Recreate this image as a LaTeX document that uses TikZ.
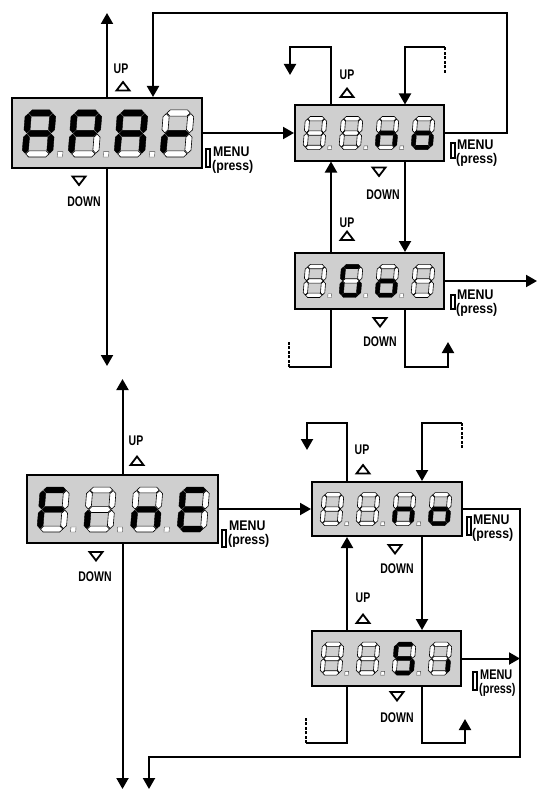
\documentclass[tikz,border=0pt]{standalone}
\usepackage{fontspec}
\setmainfont{Liberation Sans}
\usepackage{graphicx}
\usetikzlibrary{arrows.meta}
\definecolor{lcd}{gray}{0.81}

\newcommand\segH[1]{(0.15,#1) -- (0.9,#1+0.75) -- (5.1,#1+0.75) -- (5.85,#1) -- (5.1,#1-0.75) -- (0.9,#1-0.75) -- cycle}
\newcommand\segV[3]{(#1,#2+0.15) -- (#1+0.75,#2+0.9) -- (#1+0.75,#3-0.9) -- (#1,#3-0.15) -- (#1-0.75,#3-0.9) -- (#1-0.75,#2+0.9) -- cycle}
\def\sevsegs#1#2#3#4#5#6#7#8\relax{%
  \path[seg#1] \segH{10};
  \path[seg#2] \segV{6}{5}{10};
  \path[seg#3] \segV{6}{0}{5};
  \path[seg#4] \segH{0};
  \path[seg#5] \segV{0}{0}{5};
  \path[seg#6] \segV{0}{5}{10};
  \path[seg#7] \segH{5};
  \ifnum#8=1 \path[dpt] (7.9,-0.75) rectangle (9.2,0.55);\fi}
\newcommand\sevdig[4]{\begin{scope}[shift={(#1,#2)},x=#3pt,y=#3pt,xslant=0.08]\sevsegs#4\relax\end{scope}}
\newcommand\lcdrow[8]{%
  \sevdig{#1}{#2}{#3}{#51}%
  \sevdig{#1+#4}{#2}{#3}{#61}%
  \sevdig{#1+2*#4}{#2}{#3}{#71}%
  \sevdig{#1+3*#4}{#2}{#3}{#80}}
\newcommand\nrw[1]{\scalebox{0.75}[1]{#1}}
\newcommand\menutext[1][0.88]{\hspace*{1pt}\scalebox{#1}[1]{MENU}\\\scalebox{#1}[1]{(press)}}

\begin{document}
\begin{tikzpicture}[x=1pt,y=-1pt,
  wire/.style={line width=2pt},
  conn/.style={line width=2pt,-{Triangle[width=12pt,length=11pt]}},
  brk/.style={line width=1.6pt,dash pattern=on 3pt off 1.5pt},
  box/.style={draw,line width=2pt,fill=lcd,inner sep=0pt},
  seg1/.style={fill=black,draw=black,line width=0.4pt},
  seg0/.style={fill=white,draw=black,line width=0.6pt},
  dpt/.style={fill=white,draw=black!70,line width=0.4pt},
  lbl/.style={inner sep=0pt,font=\fontsize{14}{14}\selectfont\bfseries},
  mlbl/.style={inner sep=0pt,anchor=west,align=left,font=\fontsize{14}{13.5}\selectfont\bfseries},
  key/.style={draw,line width=1.3pt,fill=white},
  upmark/.pic={\draw[line width=1.8pt,fill=white] (-6.5,4) -- (6.5,4) -- (0,-4.5) -- cycle;},
  downmark/.pic={\draw[line width=1.8pt,fill=white] (-6.5,-4) -- (6.5,-4) -- (0,4.5) -- cycle;}]
\useasboundingbox (0,0) rectangle (538,789);

% ---------------- top section ----------------
\node[box,minimum width=190pt,minimum height=70pt] (A) at (107,133) {};
\node[box,minimum width=149pt,minimum height=55pt] (B) at (369.5,133) {};
\node[box,minimum width=149pt,minimum height=56pt] (C) at (369.5,281) {};

\coordinate (aTop) at (107,13);
\coordinate (aBot) at (107,366);
\coordinate (lpR) at (507,13);
\coordinate (lpL) at (153,13);
\coordinate (b1) at (331,47);
\coordinate (b2) at (290,47);
\coordinate (b3) at (290,75);
\coordinate (b4) at (445,73);
\coordinate (b5) at (445,47);
\coordinate (b6) at (405,47);
\coordinate (c1) at (331,367);
\coordinate (c2) at (289,367);
\coordinate (c3) at (289,342);
\coordinate (c4) at (405,367);
\coordinate (c5) at (448,367);
\coordinate (c6) at (448,342);
\coordinate (c7) at (537,281);

\draw[conn] (A.north -| aTop) -- (aTop);
\draw[conn] (A.south -| aBot) -- (aBot);
\draw[conn] (A.east) -- (A.east -| B.west);
\draw[conn] (B.east) -| (lpR) -- (lpL) -- (lpL |- A.north);
\draw[conn] (b1 |- B.north) -- (b1) -- (b2) -- (b3);
\draw[brk] (b4) -- (b5);
\draw[conn] (b5) -- (b6) -- (b6 |- B.north);
\draw[conn] (B.south -| b6) -- (b6 |- C.north);
\draw[conn] (C.north -| b1) -- (b1 |- B.south);
\draw[wire] (C.south -| c1) -- (c1) -- (c2);
\draw[brk] (c2) -- (c3);
\draw[conn] (C.south -| c4) -- (c4) -- (c5) -- (c6);
\draw[conn] (C.east) -- (c7);

\lcdrow{25.1}{153.9}{4.09}{46}{1110111}{1100111}{1110111}{0000101}
\lcdrow{305.2}{147.4}{2.87}{36}{0000000}{0000000}{0010101}{0011101}
\lcdrow{305.2}{295.3}{2.87}{36}{0000000}{1011110}{0011101}{0000000}

\node[lbl] (upA) at (121,69) {\nrw{UP}};
\pic at (123,86.5) {upmark};
\pic at (79,180.5) {downmark};
\node[lbl] (dnA) at (84,202) {\nrw{DOWN}};
\draw[key] (206,149) rectangle (210,167);
\node[mlbl] (mA) at (212,160) {\menutext};

\node[lbl] (upB) at (347,75) {\nrw{UP}};
\pic at (347,93) {upmark};
\pic at (379,171.5) {downmark};
\node[lbl] (dnB) at (383,195) {\nrw{DOWN}};
\draw[key] (451,143) rectangle (455,158);
\node[mlbl] (mB) at (456,153) {\menutext};

\node[lbl] (upC) at (347,223) {\nrw{UP}};
\pic at (347,236) {upmark};
\pic at (380,322) {downmark};
\node[lbl] (dnC) at (380,342) {\nrw{DOWN}};
\draw[key] (451,295) rectangle (455,309);
\node[mlbl] (mC) at (456,303) {\menutext};

% ---------------- bottom section ----------------
\node[box,minimum width=191pt,minimum height=68pt] (D) at (122.5,509) {};
\node[box,minimum width=150pt,minimum height=54pt] (E) at (387,509) {};
\node[box,minimum width=149pt,minimum height=55pt] (F) at (386.5,658.5) {};

\coordinate (dTop) at (122.5,379);
\coordinate (dBot) at (122.5,789);
\coordinate (e1) at (347,423);
\coordinate (e2) at (307,423);
\coordinate (e3) at (307,450);
\coordinate (e4) at (462,448);
\coordinate (e5) at (462,423);
\coordinate (e6) at (422,423);
\coordinate (e7) at (520,757);
\coordinate (e8) at (149,757);
\coordinate (e9) at (149,789);
\coordinate (f1) at (347,743);
\coordinate (f2) at (306,743);
\coordinate (f3) at (306,717);
\coordinate (f4) at (422,743);
\coordinate (f5) at (465,743);
\coordinate (f6) at (465,719);

\draw[conn] (D.north -| dTop) -- (dTop);
\draw[conn] (D.south -| dBot) -- (dBot);
\draw[conn] (D.east) -- (D.east -| E.west);
\draw[conn] (e1 |- E.north) -- (e1) -- (e2) -- (e3);
\draw[brk] (e4) -- (e5);
\draw[conn] (e5) -- (e6) -- (e6 |- E.north);
\draw[conn] (E.east) -| (e7) -- (e8) -- (e9);
\draw[conn] (E.south -| e6) -- (e6 |- F.north);
\draw[conn] (F.north -| e1) -- (e1 |- E.south);
\draw[conn] (F.east) -- (F.east -| e7);
\draw[wire] (F.south -| f1) -- (f1) -- (f2);
\draw[brk] (f2) -- (f3);
\draw[conn] (F.south -| f4) -- (f4) -- (f5) -- (f6);

\lcdrow{39.9}{529.1}{3.91}{46.7}{1000111}{0000100}{0010101}{1001111}
\lcdrow{322.2}{523.4}{2.87}{36}{0000000}{0000000}{0010101}{0011101}
\lcdrow{322.2}{672.9}{2.87}{36}{0000000}{0000000}{1011011}{0010000}

\node[lbl] (upD) at (136,441) {\nrw{UP}};
\pic at (137,461) {upmark};
\pic at (96,556) {downmark};
\node[lbl] (dnD) at (95,577) {\nrw{DOWN}};
\draw[key] (222,530) rectangle (226,547);
\node[mlbl] (mD) at (228,534) {\menutext};

\node[lbl] (upE) at (362,450) {\nrw{UP}};
\pic at (363,469.5) {upmark};
\pic at (395,549) {downmark};
\node[lbl] (dnE) at (397,569) {\nrw{DOWN}};
\draw[key] (467,517) rectangle (471,535);
\node[mlbl] (mE) at (472,528) {\menutext};

\node[lbl] (upF) at (363,598) {\nrw{UP}};
\pic at (363,619) {upmark};
\pic at (397,696) {downmark};
\node[lbl] (dnF) at (397,718) {\nrw{DOWN}};
\draw[key] (473,672) rectangle (477,690);
\node[mlbl] (mF) at (479,683) {\menutext[0.78]};
\end{tikzpicture}
\end{document}
